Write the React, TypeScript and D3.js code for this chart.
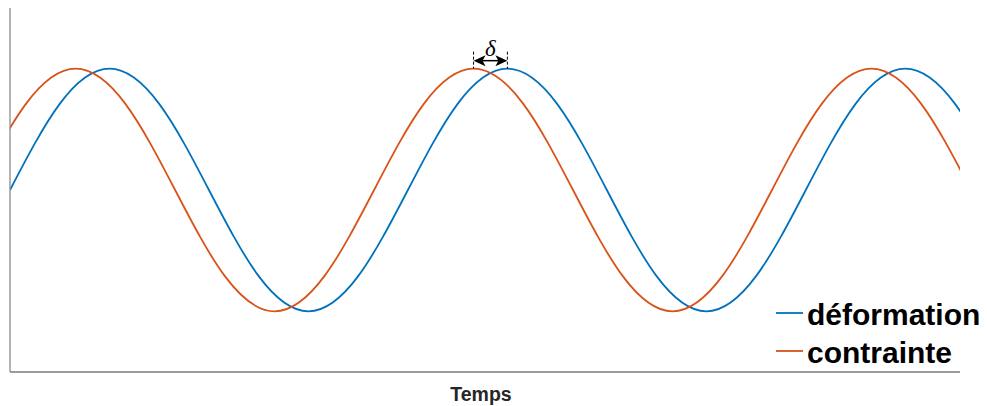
import { useRef, useEffect } from "react";
import * as d3 from "d3";

const strainTime = [0, 1, 2, 3, 4, 5, 6, 7, 8, 9, 10, 11, 12, 13, 14, 15, 16, 17, 18, 19, 20];
const strainValue = [0, 0.71, 1, 0.71, 0, -0.71, -1, -0.71, 0, 0.71, 1, 0.71, 0, -0.71, -1, -0.71, 0, 0.71, 1, 0.71, 0];
// stress leads strain by ~0.68 time units
const stressTime = [-0.68, 0.32, 1.32, 2.32, 3.32, 4.32, 5.32, 6.32, 7.32, 8.32, 9.32, 10.32, 11.32, 12.32, 13.32, 14.32, 15.32, 16.32, 17.32, 18.32, 19.32];
const stressValue = [0, 0.71, 1, 0.71, 0, -0.71, -1, -0.71, 0, 0.71, 1, 0.71, 0, -0.71, -1, -0.71, 0, 0.71, 1, 0.71, 0];

const seriesNames = ["déformation", "contrainte"];
const seriesColors = ["#0072BD", "#D95319"];
const xDomain = [0, 19.1];
const yDomain = [-1.5, 1.5];
const deltaPeaks = [9.32, 10]; // stress peak, strain peak
const xLabel = "Temps";

type Pt = { t: number; v: number };

export default function App() {
  const ref = useRef<SVGSVGElement>(null);

  useEffect(() => {
    if (!ref.current) return;
    const svg = d3.select(ref.current); svg.selectAll("*").remove();
    const W = 987, H = 406;
    const margin = { top: 8, right: 27, bottom: 34, left: 10 };
    const width = W - margin.left - margin.right;
    const height = H - margin.top - margin.bottom;
    svg.attr("width", W).attr("height", H);
    const g = svg.append("g").attr("transform", `translate(${margin.left},${margin.top})`);

    const x = d3.scaleLinear().domain(xDomain).range([0, width]);
    const y = d3.scaleLinear().domain(yDomain).range([height, 0]);

    svg.append("defs").append("clipPath").attr("id", "plotclip")
      .append("rect").attr("x", 0).attr("y", -5).attr("width", width).attr("height", height + 10);

    const strain: Pt[] = strainTime.map((t, i) => ({ t, v: strainValue[i] }));
    const stress: Pt[] = stressTime.map((t, i) => ({ t, v: stressValue[i] }));
    const line = d3.line<Pt>().x(d => x(d.t)).y(d => y(d.v)).curve(d3.curveNatural);

    const plot = g.append("g").attr("clip-path", "url(#plotclip)");
    [strain, stress].forEach((data, i) => {
      plot.append("path").datum(data).attr("fill", "none").attr("stroke", seriesColors[i])
        .attr("stroke-width", 1.8).attr("d", line);
    });

    // axes (no ticks)
    g.append("line").attr("x1", 0).attr("x2", 0).attr("y1", 0).attr("y2", height)
      .attr("stroke", "#8c8c8c").attr("stroke-width", 1.3);
    g.append("line").attr("x1", 0).attr("x2", width).attr("y1", height).attr("y2", height)
      .attr("stroke", "#7a7a7a").attr("stroke-width", 1.3);
    g.append("text").attr("x", width / 2 - 4).attr("y", height + 29).attr("text-anchor", "middle")
      .attr("font-family", "Liberation Sans, Arial, sans-serif").attr("font-weight", "bold")
      .attr("font-size", "19.5px").attr("fill", "#262626").text(xLabel);

    // delta annotation
    const x0 = x(deltaPeaks[0]), x1 = x(deltaPeaks[1]), yp = y(1);
    const ann = g.append("g");
    [x0, x1].forEach(xx => {
      ann.append("line").attr("x1", xx).attr("x2", xx).attr("y1", yp - 17).attr("y2", yp)
        .attr("stroke", "#000").attr("stroke-width", 1).attr("stroke-dasharray", "3,2");
    });
    const ya = yp - 8;
    ann.append("line").attr("x1", x0 + 6).attr("x2", x1 - 6).attr("y1", ya).attr("y2", ya)
      .attr("stroke", "#000").attr("stroke-width", 1.5);
    ann.append("path").attr("d", `M${x0},${ya}L${x0 + 12},${ya - 5.5}L${x0 + 9},${ya}L${x0 + 12},${ya + 5.5}Z`).attr("fill", "#000");
    ann.append("path").attr("d", `M${x1},${ya}L${x1 - 12},${ya - 5.5}L${x1 - 9},${ya}L${x1 - 12},${ya + 5.5}Z`).attr("fill", "#000");
    ann.append("text").attr("x", (x0 + x1) / 2).attr("y", ya - 5).attr("text-anchor", "middle")
      .attr("font-family", "Liberation Serif, serif").attr("font-style", "italic").attr("font-size", "23px")
      .attr("fill", "#000").text("δ");

    // legend
    const leg = svg.append("g").attr("transform", `translate(776,313)`);
    seriesNames.forEach((name, i) => {
      leg.append("line").attr("x1", 0).attr("x2", 27).attr("y1", i * 38).attr("y2", i * 38)
        .attr("stroke", seriesColors[i]).attr("stroke-width", 1.8);
      leg.append("text").attr("x", 31).attr("y", i * 38 + 12)
        .attr("font-family", "Liberation Sans, Arial, sans-serif").attr("font-weight", "bold")
        .attr("font-size", "30px").attr("fill", "#000").text(name);
    });
  }, []);

  return (
    <div style={{ position: "absolute", left: 0, top: 0, background: "#fff" }}>
      <svg ref={ref} style={{ display: "block" }} />
    </div>
  );
}
